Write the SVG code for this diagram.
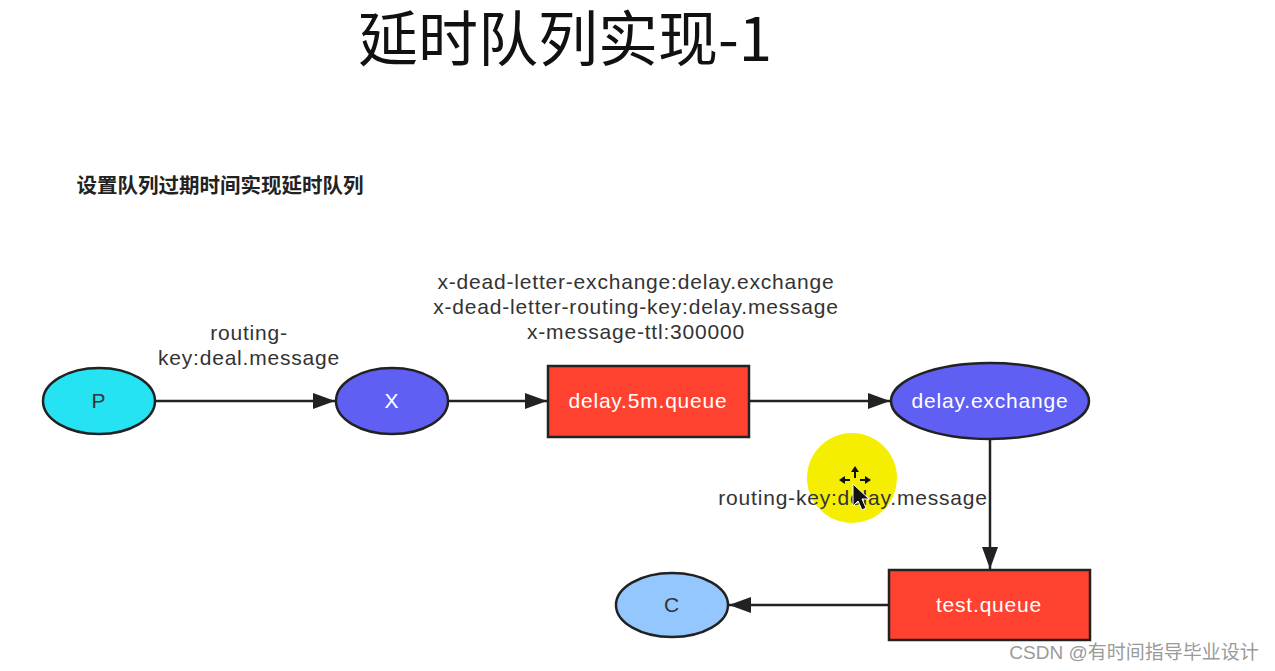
<svg xmlns="http://www.w3.org/2000/svg" width="1275" height="671" viewBox="0 0 1275 671">
<defs>
<style>
.t{font-family:"Liberation Sans","Noto Sans CJK SC",sans-serif;font-size:21px;letter-spacing:0.8px;fill:#333;text-anchor:middle}
.w{fill:#fff}
.n{stroke:#222;stroke-width:2.5}
.e{stroke:#222;stroke-width:2.5;fill:none}
</style>
<marker id="a" viewBox="0 0 22 16" refX="22" refY="8" markerWidth="22" markerHeight="16" markerUnits="userSpaceOnUse" orient="auto">
<path d="M0,0 L22,8 L0,16 z" fill="#222"/>
</marker>
</defs>
<rect width="1275" height="671" fill="#fff"/>
<text x="565" y="61" font-family="'Noto Sans CJK SC',sans-serif" font-size="60" fill="#111" text-anchor="middle">延时队列实现-1</text>
<text x="220" y="193" font-family="'Noto Sans CJK SC',sans-serif" font-size="20.5" font-weight="bold" fill="#222" text-anchor="middle">设置队列过期时间实现延时队列</text>
<circle cx="852" cy="478" r="45" fill="#f5ee00"/>
<g id="connectors">
<line class="e" x1="156" y1="401" x2="335" y2="401" marker-end="url(#a)"/>
<line class="e" x1="449" y1="401" x2="547" y2="401" marker-end="url(#a)"/>
<line class="e" x1="749" y1="401" x2="890" y2="401" marker-end="url(#a)"/>
<line class="e" x1="990" y1="439" x2="990" y2="569" marker-end="url(#a)"/>
<line class="e" x1="889" y1="605" x2="729" y2="605" marker-end="url(#a)"/>
<text class="t"><tspan x="249" y="340">routing-</tspan><tspan x="249" y="365">key:deal.message</tspan></text>
<text class="t"><tspan x="636" y="289">x-dead-letter-exchange:delay.exchange</tspan><tspan x="636" y="314">x-dead-letter-routing-key:delay.message</tspan><tspan x="636" y="339">x-message-ttl:300000</tspan></text>
<text class="t" x="853" y="505">routing-key:delay.message</text>
</g>
<g id="cursor" fill="#111" stroke="#fff" stroke-width="1">
<path d="M853,484 L853,506 L858,501 L862,510 L866,508 L862,499 L869,499 z"/>
<path d="M855,466 L851,472 L859,472 z M839,480 L845,476 L845,484 z M871,480 L865,476 L865,484 z" stroke="none"/>
<path d="M855,470 L855,478 M845,480 L850,480 M860,480 L865,480" stroke="#111" stroke-width="2"/>
</g>
<g id="node-P"><ellipse class="n" cx="99" cy="401" rx="56" ry="33" fill="#25e3f2"/><text class="t" x="99" y="408" fill="#1a5a6a">P</text></g>
<g id="node-X"><ellipse class="n" cx="392" cy="401" rx="56" ry="33" fill="#5f5ff4"/><text class="t w" x="392" y="408">X</text></g>
<g id="node-delay5m"><rect class="n" x="548" y="366" width="201" height="71" fill="#ff4230"/><text class="t w" x="648" y="408">delay.5m.queue</text></g>
<g id="node-delayexchange"><ellipse class="n" cx="990" cy="401" rx="99" ry="38" fill="#5f5ff4"/><text class="t w" x="990" y="408">delay.exchange</text></g>
<g id="node-testqueue"><rect class="n" x="889" y="570" width="201" height="70" fill="#ff4230"/><text class="t w" x="989" y="612">test.queue</text></g>
<g id="node-C"><ellipse class="n" cx="672" cy="605" rx="56" ry="32" fill="#93c7fd"/><text class="t" x="672" y="612" fill="#2a4a6a">C</text></g>
<text x="1134" y="659" font-family="'Liberation Sans','Noto Sans CJK SC',sans-serif" font-size="19" fill="#9a9a9a" text-anchor="middle">CSDN @有时间指导毕业设计</text>
</svg>
